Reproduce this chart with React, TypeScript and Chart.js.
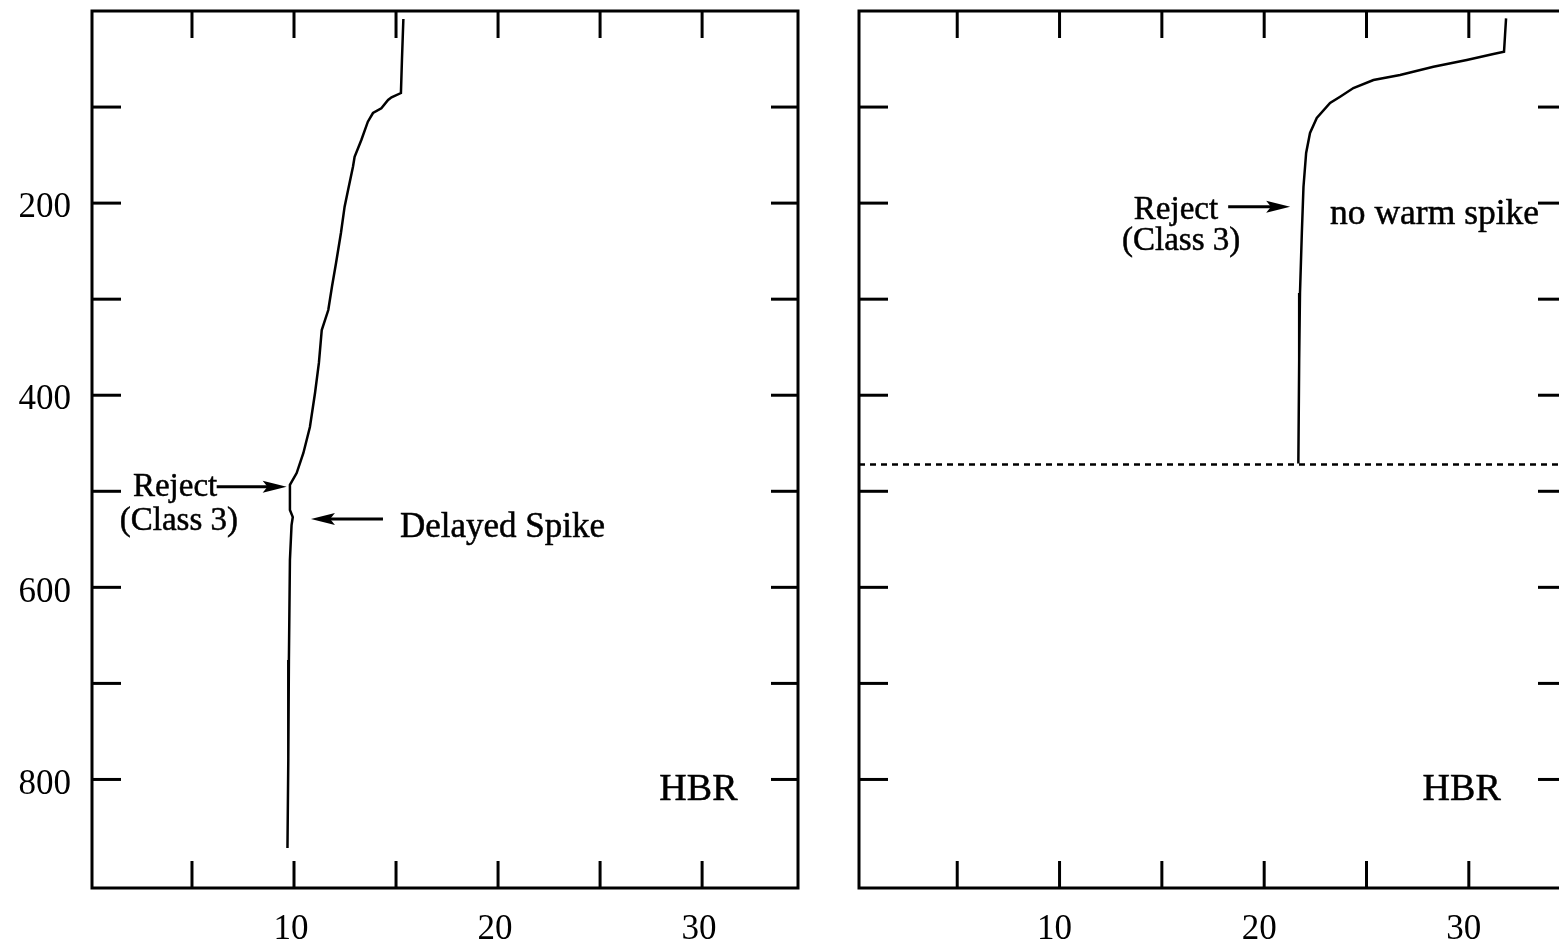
import React, { useEffect, useRef } from "react";
import { Chart, registerables } from "chart.js";

Chart.register(...registerables);

// ---- axes ----
const xMinLeft = 0.1;
const xMinRight = 0.2;
const xMax = 34.7;
const yMin = 0;
const yMax = 913;
const xTickValues = [5, 10, 15, 20, 25, 30];
const xLabelValues = [10, 20, 30];
const yTickValues = [100, 200, 300, 400, 500, 600, 700, 800];
const yLabelValues = [200, 400, 600, 800];

// ---- left profile (temperature vs depth) ----
const leftTemp = [
  15.36, 15.29, 15.24, 14.78, 14.61, 14.28, 13.87, 13.62, 13.30, 12.97, 12.89, 12.65,
  12.48, 12.30, 12.06, 11.86, 11.68, 11.36, 11.22, 11.03, 10.78, 10.46, 10.13, 9.80,
  9.80, 9.94, 9.88, 9.80, 9.75, 9.72, 9.68,
];
const leftDepth = [
  8.3, 51.0, 85.4, 89.8, 92.6, 101.2, 106.2, 115.2, 134.3, 151.7, 162.1, 186.3,
  203.7, 231.1, 262.3, 287.0, 311.3, 332.1, 366.4, 397.7, 433.1, 460.1, 481.0, 493.4,
  519.5, 526.8, 535.1, 571.5, 675.6, 779.7, 871.3,
];

// ---- right profile ----
const rightTemp = [
  31.82, 31.77, 31.72, 31.20, 29.90, 28.27, 26.64, 25.34, 24.36, 23.71, 23.22, 22.57,
  22.24, 22.05, 21.92, 21.84, 21.75, 21.71, 21.67,
];
const rightDepth = [
  7.6, 25.0, 42.4, 44.8, 51.0, 58.0, 66.6, 71.8, 80.2, 89.2, 95.8, 111.4,
  127.0, 147.8, 183.2, 231.1, 293.6, 363.3, 471.1,
];
const rightRejectDepth = 472;

// ---- annotations (data coordinates) ----
const leftTexts = [
  { text: "Reject", x: 4.17, y: 505.4, align: "center" },
  { text: "(Class 3)", x: 4.36, y: 540.3, align: "center" },
  { text: "Delayed Spike", x: 15.19, y: 547.6, align: "left" },
  { text: "HBR", x: 29.82, y: 821.4, align: "center" },
];
const leftArrows = [
  { from: 6.21, to: 9.64, y: 495.2 },
  { from: 14.36, to: 10.83, y: 528.8 },
];
const rightTexts = [
  { text: "Reject", x: 15.69, y: 216.5, align: "center" },
  { text: "(Class 3)", x: 15.94, y: 248.8, align: "center" },
  { text: "no warm spike", x: 23.22, y: 221.7, align: "left" },
  { text: "HBR", x: 29.65, y: 821.4, align: "center" },
];
const rightArrows = [{ from: 18.24, to: 21.27, y: 203.7 }];

const SERIF = '"Liberation Serif", "Times New Roman", serif';
const textSize: Record<string, number> = {
  Reject: 33,
  "(Class 3)": 33,
  "Delayed Spike": 35,
  "no warm spike": 35.5,
  HBR: 38,
};

const framePlugin = {
  id: "frame",
  afterDatasetsDraw(chart: any, _args: any, opts: any) {
    const { ctx, chartArea, scales } = chart;
    const { left, right, top, bottom } = chartArea;
    const xs = scales.x;
    const ys = scales.y;
    const TL = 27;
    ctx.save();
    ctx.strokeStyle = "#000";
    ctx.fillStyle = "#000";
    ctx.lineWidth = 3;
    ctx.lineCap = "butt";
    ctx.strokeRect(left, top, right - left, bottom - top);
    const seg = (x1: number, y1: number, x2: number, y2: number) => {
      ctx.beginPath();
      ctx.moveTo(x1, y1);
      ctx.lineTo(x2, y2);
      ctx.stroke();
    };
    for (const v of xTickValues) {
      const px = xs.getPixelForValue(v);
      seg(px, top, px, top + TL);
      seg(px, bottom, px, bottom - TL);
    }
    for (const v of yTickValues) {
      const py = ys.getPixelForValue(v);
      seg(left, py, left + TL + 2, py);
      seg(right, py, right - TL, py);
    }
    // annotations
    ctx.textBaseline = "alphabetic";
    ctx.lineWidth = 0.5;
    for (const t of opts.texts || []) {
      ctx.font = `${textSize[t.text] || 33}px ${SERIF}`;
      ctx.textAlign = t.align;
      const tx = xs.getPixelForValue(t.x);
      const ty = ys.getPixelForValue(t.y);
      ctx.fillText(t.text, tx, ty);
      ctx.strokeText(t.text, tx, ty);
    }
    ctx.lineWidth = 3;
    for (const a of opts.arrows || []) {
      const x1 = xs.getPixelForValue(a.from);
      const x2 = xs.getPixelForValue(a.to);
      const py = ys.getPixelForValue(a.y);
      const dir = x2 > x1 ? 1 : -1;
      const head = 24;
      seg(x1, py, x2 - dir * head * 0.6, py);
      ctx.beginPath();
      ctx.moveTo(x2, py);
      ctx.lineTo(x2 - dir * head, py - 6);
      ctx.lineTo(x2 - dir * head * 0.8, py);
      ctx.lineTo(x2 - dir * head, py + 6);
      ctx.closePath();
      ctx.fill();
    }
    ctx.restore();
  },
};

function makeConfig(
  datasets: any[],
  xMin: number,
  yAxisWidth: number,
  padRight: number,
  showYLabels: boolean,
  xLabelOffset: number,
  texts: any[],
  arrows: any[]
): any {
  return {
    type: "line",
    data: { datasets },
    options: {
      responsive: false,
      animation: false,
      devicePixelRatio: 1,
      layout: { padding: { left: 0, top: 11, right: padRight, bottom: 0 } },
      plugins: {
        legend: { display: false },
        tooltip: { enabled: false },
        frame: { texts, arrows },
      },
      elements: { point: { radius: 0 } },
      scales: {
        x: {
          type: "linear",
          min: xMin,
          max: xMax,
          afterBuildTicks: (s: any) => {
            s.ticks = xLabelValues.map((v) => ({ value: v }));
          },
          afterFit: (s: any) => {
            s.height = 59;
            s.paddingLeft = 0;
            s.paddingRight = 0;
          },
          grid: { display: false, drawTicks: false },
          border: { display: false },
          ticks: {
            color: "#000",
            font: { family: SERIF, size: 35 },
            padding: 21,
            maxRotation: 0,
            autoSkip: false,
            labelOffset: xLabelOffset,
            callback: (v: any) => String(v),
          },
        },
        y: {
          type: "linear",
          reverse: true,
          min: yMin,
          max: yMax,
          afterBuildTicks: (s: any) => {
            s.ticks = yLabelValues.map((v) => ({ value: v }));
          },
          afterFit: (s: any) => {
            s.width = yAxisWidth;
            s.paddingTop = 0;
            s.paddingBottom = 0;
          },
          grid: { display: false, drawTicks: false },
          border: { display: false },
          ticks: {
            display: showYLabels,
            color: "#000",
            font: { family: SERIF, size: 35 },
            padding: 21,
            labelOffset: 5,
            autoSkip: false,
            callback: (v: any) => String(v),
          },
        },
      },
    },
    plugins: [framePlugin],
  };
}

function Panel(props: { left: number; width: number; config: any }) {
  const ref = useRef<HTMLCanvasElement | null>(null);
  useEffect(() => {
    if (!ref.current) return;
    const chart = new Chart(ref.current, props.config);
    return () => chart.destroy();
  }, []);
  return (
    <canvas
      ref={ref}
      width={props.width}
      height={947}
      style={{
        position: "absolute",
        left: props.left,
        top: 0,
        width: props.width,
        height: 947,
      }}
    />
  );
}

export default function App() {
  const lineStyle = {
    borderColor: "#000",
    borderWidth: 2.5,
    pointRadius: 0,
    tension: 0,
    fill: false,
  };
  const leftData = [
    {
      ...lineStyle,
      data: leftTemp.map((t, i) => ({ x: t, y: leftDepth[i] })),
    },
  ];
  const rightData = [
    {
      ...lineStyle,
      data: rightTemp.map((t, i) => ({ x: t, y: rightDepth[i] })),
    },
    {
      ...lineStyle,
      borderWidth: 2.5,
      borderDash: [6, 5],
      data: [
        { x: xMinRight, y: rightRejectDepth },
        { x: xMax, y: rightRejectDepth },
      ],
    },
  ];
  const leftCfg = makeConfig(leftData, xMinLeft, 92, 32, true, -3, leftTexts, leftArrows);
  const rightCfg = makeConfig(rightData, xMinRight, 39, 55, false, -5, rightTexts, rightArrows);
  return (
    <div
      style={{
        position: "fixed",
        left: 0,
        top: 0,
        width: 1559,
        height: 947,
        overflow: "hidden",
        background: "#fff",
      }}
    >
      <Panel left={0} width={830} config={leftCfg} />
      <Panel left={820} width={800} config={rightCfg} />
    </div>
  );
}
